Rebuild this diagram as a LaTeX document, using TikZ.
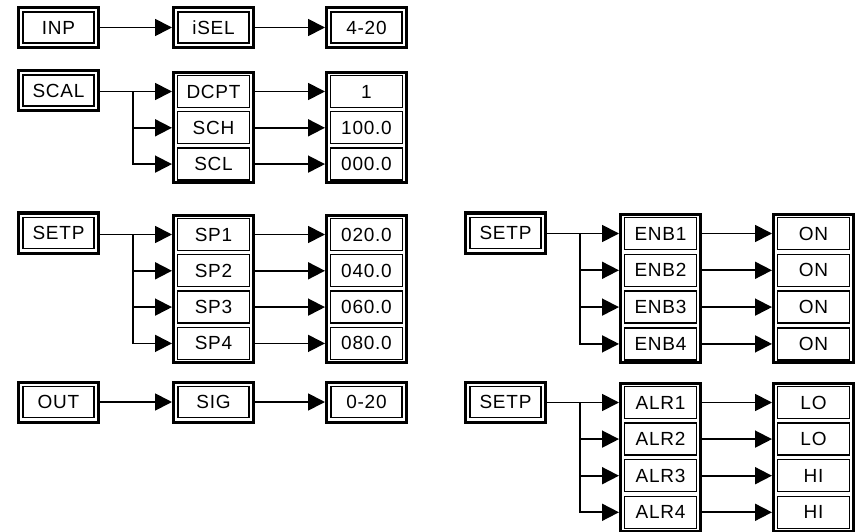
\documentclass[tikz,border=0pt]{standalone}
\usepackage{fontspec}
\setmainfont{Liberation Sans}[LetterSpace=4]
\usetikzlibrary{arrows.meta,fit,positioning}
\tikzset{
  cell/.style={draw, line width=1.3pt, minimum width=71pt, minimum height=31pt, inner sep=0pt, outer sep=0pt, font=\fontsize{19}{19}\selectfont},
  row/.style={cell, minimum width=72pt, minimum height=32pt},
  frame/.style={draw, line width=3pt, inner sep=4.5pt, outer sep=1.5pt},
  grp/.style={frame, inner xsep=4pt, inner ysep=2.8pt},
  link/.style={line width=1.8pt, -{Triangle[length=17pt,width=17pt]}},
  wire/.style={line width=1.8pt}
}
\begin{document}
\begin{tikzpicture}[x=1pt, y=-1pt]
\useasboundingbox (0,0) rectangle (860,532);
% input chain
\node[cell] (inp) at (58.5,27.5) {INP};
\node[cell] (isel) at (213.5,27.5) {iSEL};
\node[cell] (rng) at (366.5,27.5) {4-20};
\node[frame, fit=(inp)] (inpF) {};
\node[frame, fit=(isel)] (iselF) {};
\node[frame, fit=(rng)] (rngF) {};
\draw[link] (inpF) -- (iselF);
\draw[link] (iselF) -- (rngF);
% scaling
\node[cell] (scal) at (58.5,90.5) {SCAL};
\node[frame, fit=(scal)] (scalF) {};
\foreach \t [count=\i] in {DCPT,SCH,SCL}
  \node[row] (d\i) at (213.5,{91.5+36.3*(\i-1)}) {\t};
\foreach \t [count=\i] in {1,100.0,000.0}
  \node[row] (v\i) at (366.5,{91.5+36.3*(\i-1)}) {\t};
\node[grp, fit=(d1)(d3)] (dF) {};
\node[grp, fit=(v1)(v3)] (vF) {};
\coordinate (sbr) at (133,0);
\draw[link] (scalF.east |- d1) -- (dF.west |- d1);
\draw[link] (sbr |- d1) -- (sbr |- d3) -- (dF.west |- d3);
\draw[link] (sbr |- d2) -- (dF.west |- d2);
\foreach \i in {1,2,3}
  \draw[link] (dF.east |- d\i) -- (vF.west |- d\i);
% set points
\node[cell] (setp) at (58.5,233) {SETP};
\node[frame, fit=(setp)] (setpF) {};
\foreach \t [count=\i] in {SP1,SP2,SP3,SP4}
  \node[row] (s\i) at (213.5,{234.5+36.3*(\i-1)}) {\t};
\foreach \t [count=\i] in {020.0,040.0,060.0,080.0}
  \node[row] (w\i) at (366.5,{234.5+36.3*(\i-1)}) {\t};
\node[grp, fit=(s1)(s4)] (sF) {};
\node[grp, fit=(w1)(w4)] (wF) {};
\coordinate (pbr) at (133,0);
\draw[link] (setpF.east |- s1) -- (sF.west |- s1);
\draw[link] (pbr |- s1) -- (pbr |- s4) -- (sF.west |- s4);
\foreach \i in {2,3}
  \draw[link] (pbr |- s\i) -- (sF.west |- s\i);
\foreach \i in {1,...,4}
  \draw[link] (sF.east |- s\i) -- (wF.west |- s\i);
% output chain
\node[cell] (out) at (58.5,402) {OUT};
\node[cell] (sig) at (213.5,402) {SIG};
\node[cell] (orng) at (366.5,402) {0-20};
\node[frame, fit=(out)] (outF) {};
\node[frame, fit=(sig)] (sigF) {};
\node[frame, fit=(orng)] (orngF) {};
\draw[link] (outF) -- (sigF);
\draw[link] (sigF) -- (orngF);
% enable
\node[cell] (setpb) at (505.5,233) {SETP};
\node[frame, fit=(setpb)] (setpbF) {};
\foreach \t [count=\i] in {ENB1,ENB2,ENB3,ENB4}
  \node[row] (e\i) at (660.5,{233.5+36.8*(\i-1)}) {\t};
\foreach \i in {1,...,4}
  \node[row] (on\i) at (813.5,{233.5+36.8*(\i-1)}) {ON};
\node[grp, fit=(e1)(e4)] (eF) {};
\node[grp, fit=(on1)(on4)] (onF) {};
\coordinate (ebr) at (580,0);
\draw[link] (setpbF.east |- e1) -- (eF.west |- e1);
\draw[link] (ebr |- e1) -- (ebr |- e4) -- (eF.west |- e4);
\foreach \i in {2,3}
  \draw[link] (ebr |- e\i) -- (eF.west |- e\i);
\foreach \i in {1,...,4}
  \draw[link] (eF.east |- e\i) -- (onF.west |- e\i);
% alarms
\node[cell] (setpc) at (505.5,402) {SETP};
\node[frame, fit=(setpc)] (setpcF) {};
\foreach \t [count=\i] in {ALR1,ALR2,ALR3,ALR4}
  \node[row] (a\i) at (660.5,{402.5+36.6*(\i-1)}) {\t};
\foreach \t [count=\i] in {LO,LO,HI,HI}
  \node[row] (h\i) at (813.5,{402.5+36.6*(\i-1)}) {\t};
\node[grp, fit=(a1)(a4)] (aF) {};
\node[grp, fit=(h1)(h4)] (hF) {};
\coordinate (abr) at (580,0);
\draw[link] (setpcF.east |- a1) -- (aF.west |- a1);
\draw[link] (abr |- a1) -- (abr |- a4) -- (aF.west |- a4);
\foreach \i in {2,3}
  \draw[link] (abr |- a\i) -- (aF.west |- a\i);
\foreach \i in {1,...,4}
  \draw[link] (aF.east |- a\i) -- (hF.west |- a\i);
\end{tikzpicture}
\end{document}
